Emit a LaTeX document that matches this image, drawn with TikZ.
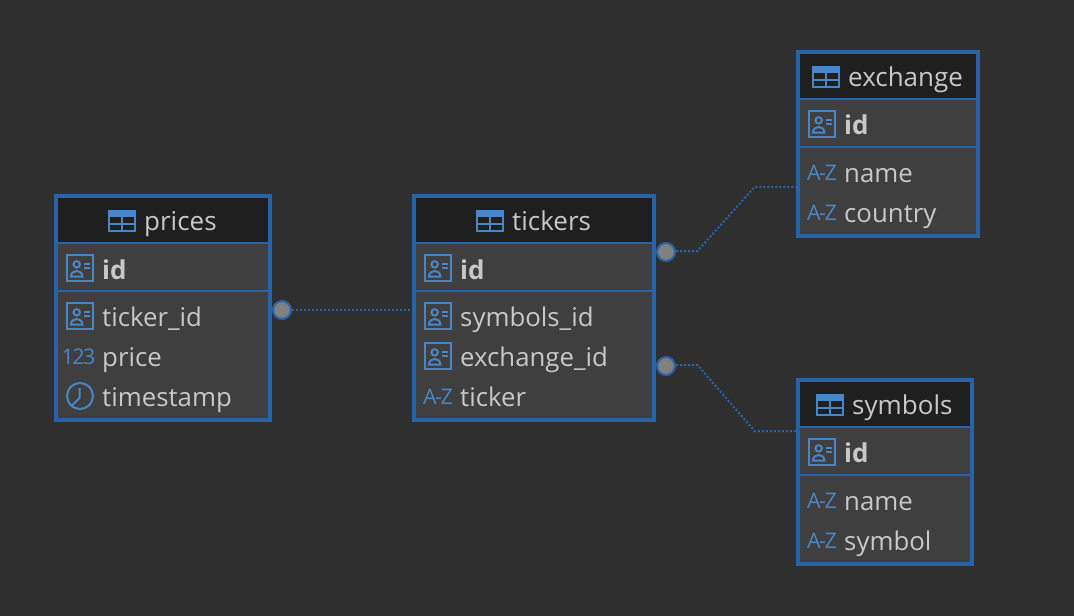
\documentclass[tikz,border=0pt]{standalone}
\usepackage{fontspec}
\setmainfont{Open Sans}
\usetikzlibrary{positioning}

\definecolor{canvas}{HTML}{2F2F2F}
\definecolor{rowfill}{HTML}{3F3F3F}
\definecolor{headfill}{HTML}{1F1F1F}
\definecolor{frameblue}{HTML}{2A62A8}
\definecolor{iconblue}{HTML}{4A86C5}
\definecolor{labelgrey}{HTML}{C8C8C8}
\definecolor{dotgrey}{HTML}{808080}

\tikzset{
	KeyIcon/.pic={
		\draw [iconblue, line width=2pt] (-13,-13) rectangle (13,13);
		\draw [iconblue, line width=2pt] (-3.3,-3.7) circle (3.2);
		\draw [iconblue, line width=2pt] (-9,8.7) .. controls (-9,1) and (2.4,1) .. (2.4,8.7) -- cycle;
		\draw [iconblue, line width=2pt] (4.3,-3.7) -- (10,-3.7);
		\draw [iconblue, line width=2pt] (4.3,0.3) -- (10,0.3);
	},
	TableIcon/.pic={
		\fill [iconblue] (-14,-11) rectangle (14,-4);
		\draw [iconblue, line width=2pt] (-13,-10) rectangle (13,10);
		\draw [iconblue, line width=2pt] (-13,3) -- (13,3);
		\draw [iconblue, line width=2pt] (0,-4) -- (0,10);
	},
	ClockIcon/.pic={
		\draw [iconblue, line width=2pt] (0,0) circle (13);
		\draw [iconblue, line width=2pt] (-0.5,-8) -- (-0.5,2) -- (-8.5,10);
	},
}

\begin{document}
\begin{tikzpicture}[x=1pt, y=-1pt]
	\tikzstyle{Back}	= [inner sep=0pt, outer sep=0pt, minimum width=1074pt, minimum height=616pt, fill=canvas]
	\tikzstyle{Head}	= [draw=frameblue, line width=2pt, fill=headfill, inner sep=0pt, outer sep=0pt, minimum height=47pt]
	\tikzstyle{KeyRow}	= [draw=frameblue, line width=2pt, fill=rowfill, inner sep=0pt, outer sep=0pt, minimum height=48pt]
	\tikzstyle{Table}	= [draw=frameblue, line width=4pt, fill=rowfill, inner sep=0pt, outer sep=0pt, minimum height=224pt]
	\tikzstyle{Frame}	= [draw=frameblue, line width=4pt, inner sep=0pt, outer sep=0pt]
	\tikzstyle{Title}	= [anchor=base west, inner sep=0pt, yshift=-0.5pt, text=labelgrey, font=\fontsize{26}{30}\selectfont]
	\tikzstyle{Column}	= [anchor=base west, inner sep=0pt, yshift=-1.5pt, text=labelgrey, font=\fontsize{25.8}{30}\selectfont]
	\tikzstyle{KeyColumn}	= [Column, font=\fontsize{26}{30}\selectfont\bfseries]
	\tikzstyle{TypeTag}	= [anchor=base, inner sep=0pt, text=iconblue, font=\fontsize{21.5}{24}\selectfont]
	\tikzstyle{Joint}	= [circle, draw=frameblue, line width=2pt, fill=dotgrey, minimum size=18pt, inner sep=0pt]
	\tikzstyle{Link}	= [frameblue, line width=2pt, dash pattern=on 2pt off 2pt]

	\node (back) at (537,308) [Back] {};

	% prices
	\node (prices) at (163,308) [Table, minimum width=214pt] {};
	\node (pricesHead) at (163,219.5) [Head, minimum width=214pt] {};
	\node (pricesKey) at (163,267) [KeyRow, minimum width=214pt] {};
	\node (pricesFrame) at (163,308) [Frame, minimum width=214pt, minimum height=224pt] {};
	\pic (pricesIcon) at (122,221) {TableIcon};
	\node (pricesTitle) at (144,230) [Title] {prices};
	\pic (pricesIdIcon) at (80,268) {KeyIcon};
	\node (pricesId) at (102,278) [KeyColumn] {id};
	\pic (pricesTickerIcon) at (80,316) {KeyIcon};
	\node (pricesTicker) at (102,325) [Column] {ticker\_id};
	\node (pricesPriceTag) at (78.5,364) [TypeTag] {1\kern-1.5pt2\kern-1.5pt3};
	\node (pricesPrice) at (102,365) [Column] {price};
	\pic (pricesClock) at (80,396) {ClockIcon};
	\node (pricesStamp) at (102,405) [Column] {timestamp};

	% tickers
	\node (tickers) at (534,308) [Table, minimum width=240pt] {};
	\node (tickersHead) at (534,219.5) [Head, minimum width=240pt] {};
	\node (tickersKey) at (534,267) [KeyRow, minimum width=240pt] {};
	\node (tickersFrame) at (534,308) [Frame, minimum width=240pt, minimum height=224pt] {};
	\pic (tickersIcon) at (490,221) {TableIcon};
	\node (tickersTitle) at (512,230) [Title] {tickers};
	\pic (tickersIdIcon) at (438,268) {KeyIcon};
	\node (tickersId) at (460,278) [KeyColumn] {id};
	\pic (tickersSymbolsIcon) at (438,316) {KeyIcon};
	\node (tickersSymbols) at (460,325) [Column] {symbols\_id};
	\pic (tickersExchangeIcon) at (438,356) {KeyIcon};
	\node (tickersExchange) at (460,365) [Column] {exchange\_id};
	\node (tickersTickerTag) at (438,404) [TypeTag] {A\kern-1.5pt-\kern-1.5ptZ};
	\node (tickersTicker) at (460,405) [Column] {ticker};

	% exchange
	\node (exchange) at (888,144) [Table, minimum width=180pt, minimum height=184pt] {};
	\node (exchangeHead) at (888,75.5) [Head, minimum width=180pt] {};
	\node (exchangeKey) at (888,123) [KeyRow, minimum width=180pt] {};
	\node (exchangeFrame) at (888,144) [Frame, minimum width=180pt, minimum height=184pt] {};
	\pic (exchangeIcon) at (826,77) {TableIcon};
	\node (exchangeTitle) at (848,86) [Title] {exchange};
	\pic (exchangeIdIcon) at (822,124) {KeyIcon};
	\node (exchangeId) at (844,133) [KeyColumn] {id};
	\node (exchangeNameTag) at (822,180) [TypeTag] {A\kern-1.5pt-\kern-1.5ptZ};
	\node (exchangeName) at (844,181) [Column] {name};
	\node (exchangeCountryTag) at (822,220) [TypeTag] {A\kern-1.5pt-\kern-1.5ptZ};
	\node (exchangeCountry) at (844,221) [Column] {country};

	% symbols
	\node (symbols) at (885,472) [Table, minimum width=174pt, minimum height=184pt] {};
	\node (symbolsHead) at (885,403.5) [Head, minimum width=174pt] {};
	\node (symbolsKey) at (885,451) [KeyRow, minimum width=174pt] {};
	\node (symbolsFrame) at (885,472) [Frame, minimum width=174pt, minimum height=184pt] {};
	\pic (symbolsIcon) at (830,405) {TableIcon};
	\node (symbolsTitle) at (852,414) [Title] {symbols};
	\pic (symbolsIdIcon) at (822,452) {KeyIcon};
	\node (symbolsId) at (844,461) [KeyColumn] {id};
	\node (symbolsNameTag) at (822,508) [TypeTag] {A\kern-1.5pt-\kern-1.5ptZ};
	\node (symbolsName) at (844,509) [Column] {name};
	\node (symbolsSymbolTag) at (822,548) [TypeTag] {A\kern-1.5pt-\kern-1.5ptZ};
	\node (symbolsSymbol) at (844,549) [Column] {symbol};

	% links
	\node (pricesJoint) at (282,310) [Joint] {};
	\node (exchangeJoint) at (666,252) [Joint] {};
	\node (symbolsJoint) at (666,366) [Joint] {};
	\coordinate (exchangeBendA) at (697.5,251);
	\coordinate (exchangeBendB) at (754.5,187);
	\coordinate (symbolsBendA) at (697.5,365);
	\coordinate (symbolsBendB) at (754.5,431);

	\draw [Link] (pricesJoint) -- (tickers.west |- pricesJoint);
	\draw [Link] (exchangeJoint.east |- exchangeBendA) -- (exchangeBendA) -- (exchangeBendB) -- (exchange.west |- exchangeBendB);
	\draw [Link] (symbolsJoint.east |- symbolsBendA) -- (symbolsBendA) -- (symbolsBendB) -- (symbols.west |- symbolsBendB);
\end{tikzpicture}
\end{document}
